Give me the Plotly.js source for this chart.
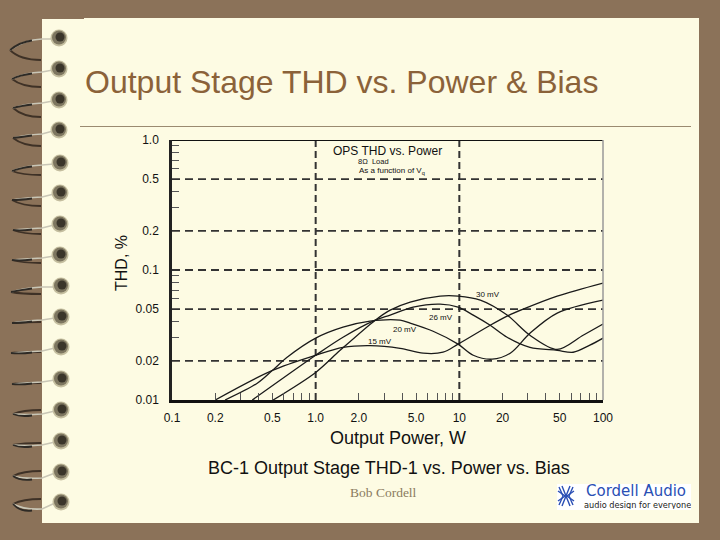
<!DOCTYPE html>
<html><head><meta charset="utf-8">
<script src="https://cdn.plot.ly/plotly-3.0.1.min.js"></script>
<style>html,body{margin:0;padding:0;background:#8B7259;overflow:hidden}</style>
</head><body><div id="chart" style="width:720px;height:540px"></div>
<script>
// ---- chart data ----
const xTickVals = [0.1,0.2,0.5,1,2,5,10,20,50,100];
const xTickText = ['0.1','0.2','0.5','1.0','2.0','5.0','10','20','50','100'];
const yTickVals = [0.01,0.02,0.05,0.1,0.2,0.5,1];
const yTickText = ['0.01','0.02','0.05','0.1','0.2','0.5','1.0'];
const xMinor = [0.2,0.3,0.4,0.5,0.6,0.7,0.8,0.9,2,3,4,5,6,7,8,9,20,30,40,50,60,70,80,90];
const yMinor = [0.9,0.8,0.7,0.6,0.4,0.3,0.09,0.08,0.07,0.06,0.04,0.03];
const xDashed = [1,10];
const yDashed = [0.5,0.2,0.1,0.05,0.02];

const p15 = [0.2,0.5,1,1.55,2.39,3.87,5.6,7.7,9.8,16.4,21.5,27.8,48,100];
const t15 = [0.01,0.0169,0.0221,0.0254,0.0262,0.025,0.0229,0.0233,0.0269,0.0376,0.0442,0.05,0.063,0.0794];
const p20 = [0.234,0.39,0.5,0.633,1,1.55,2.39,3.87,4.55,6.57,9.8,12.5,16.9,22.6,31,48,100];
const t20 = [0.01,0.0134,0.0169,0.0213,0.0299,0.0363,0.0404,0.0411,0.039,0.0338,0.0269,0.0221,0.0206,0.0229,0.0326,0.0466,0.0586];
const p26 = [0.362,1,1.55,2.6,3.3,4.77,7.35,9.8,12.5,16.4,21.5,31,48,62,81,100];
const t26 = [0.01,0.0221,0.0304,0.0411,0.045,0.0518,0.0546,0.0518,0.045,0.0376,0.0304,0.0254,0.0241,0.0233,0.0264,0.0299];
const p30 = [0.506,1,1.48,2.6,3.3,4.55,7.35,9.8,14,21.5,31,48,72.7,100];
const t30 = [0.01,0.0163,0.0241,0.0411,0.0491,0.0566,0.063,0.063,0.0586,0.045,0.0315,0.0245,0.0315,0.0384];

const curves = [['15 mV',p15,t15],['20 mV',p20,t20],['26 mV',p26,t26],['30 mV',p30,t30]];

// ---- spiral binding rings: ball y, ball x, loop tip x, tip y, return y, strand y at the page edge ----
const ringY    = [38,69,100,130,163,193,224,255,286,317,347,379,410,441,472,502];
const ringX    = [59,59,59,59,60,60,60,60,61,61,61,61,61,61,61,61];
const ringTipX = [10,12,13,13,12,12,13,12,11,12,11,12,13,13,13,13];
const ringTipY = [50,79,108,138,171,200,230,260,292,323,353,384,414,445,476,504];
const ringRetY = [60,87,117,146,175,206,234,263,294,322,352,383,410,443,471,499];
const ringEdgeY= [39,72,103,134,165,197,228,258,287,320,351,382,414,445,478,509];

// ---- pixel to paper helpers for decoration ----
const L=172,R=603,T=140,B=400;
const px=x=>(x-L)/(R-L), py=y=>(B-y)/(B-T);
const path=s=>s.replace(/(-?[\d.]+) (-?[\d.]+)/g,(m,a,b)=>px(+a)+' '+py(+b));
const rect=(x0,y0,x1,y1,fill,layer)=>({type:'rect',xref:'paper',yref:'paper',x0:px(x0),x1:px(x1),y0:py(y0),y1:py(y1),fillcolor:fill,line:{width:0},layer:layer||'below'});
const circ=(x,y,r,fill)=>({type:'circle',xref:'paper',yref:'paper',x0:px(x-r),x1:px(x+r),y0:py(y+r),y1:py(y-r),fillcolor:fill,line:{width:0},layer:'above'});
const stroke=(d,color,w)=>({type:'path',xref:'paper',yref:'paper',path:path(d),line:{color:color,width:w},layer:'above'});
const lineS=(x0,y0,x1,y1,color,w,layer)=>({type:'line',xref:'paper',yref:'paper',x0:px(x0),x1:px(x1),y0:py(y0),y1:py(y1),line:{color:color,width:w},layer:layer||'above'});

const shapes=[
  rect(42,19,84,523,'#FDFBE3'),
  rect(84,18,699,523,'#FDFBE3'),
  lineS(80,126.5,691,126.5,'#9A8A70',1,'below'),
  lineS(172,140.5,603,140.5,'#111',1.2),
  lineS(603,140,603,400,'#999',1.5),
  rect(557,484,691,510,'#FFFFFF')
];
ringY.forEach((y,i)=>{
  const x=ringX[i],tx=ringTipX[i],ty=ringTipY[i],r=ringRetY[i],e=ringEdgeY[i];
  shapes.push(stroke(`M ${tx} ${ty} Q ${tx+10} ${r} 41 ${r}`,'#3E3126',1.8));
  shapes.push(stroke(`M ${x-6} ${y+1} L 42 ${e} Q 24 ${e+1} ${tx} ${ty}`,'#C9C6B6',1.6));
  shapes.push(stroke(`M 32 ${e+1.5} Q 20 ${e+3} ${tx} ${ty}`,'#2E2A25',1.8));
  shapes.push(circ(x,y,8.5,'#C4BE9F'));
  shapes.push(circ(x,y-0.5,7,'#7D7660'));
  shapes.push(circ(x+1,y-1,4.5,'#3A352A'));
});
// logo mark
const blue='#2A4FB5';
[[-7,-9,-3,0,-7,9],[-4,-10,0,0,-4,10],[7,-9,3,0,7,9],[4,-10,0,0,4,10],[-8,-5,-1,0,-8,5],[8,-5,1,0,8,5]].forEach(c=>{
  shapes.push(stroke(`M ${566+c[0]} ${496+c[1]} L ${566+c[2]} ${496+c[3]} L ${566+c[4]} ${496+c[5]}`,blue,1.4));
});

const ann=(text,x,y,size,opts)=>Object.assign({text:text,xref:'paper',yref:'paper',x:px(x),y:py(y),xanchor:'center',yanchor:'middle',showarrow:false,
  font:{family:'Liberation Sans, Arial, sans-serif',size:size,color:'#111'}},opts||{});

const traces=[];
xDashed.forEach(v=>traces.push({x:[v,v],y:[0.01,1],mode:'lines',showlegend:false,hoverinfo:'skip',line:{color:'#333',width:2,dash:'7px,4px'}}));
yDashed.forEach(v=>traces.push({x:[0.1,100],y:[v,v],mode:'lines',showlegend:false,hoverinfo:'skip',line:{color:'#333',width:1.8,dash:'8px,5px'}}));
curves.forEach(c=>traces.push({name:c[0],x:c[1],y:c[2],mode:'lines',showlegend:false,line:{color:'#1a1a1a',width:1.3,shape:'spline',smoothing:0.9}}));

const tickFont={family:'Liberation Sans, Arial, sans-serif',size:12,color:'#111'};
const layout={
  width:720,height:540,
  margin:{l:L,r:720-R,t:T,b:540-B,pad:0},
  paper_bgcolor:'#8B7259',plot_bgcolor:'rgba(0,0,0,0)',
  showlegend:false,
  title:{text:'Output Stage THD vs. Power &amp; Bias',x:85/720,xanchor:'left',y:1-82/540,yanchor:'middle',
    font:{family:'Liberation Sans, Arial, sans-serif',size:32,color:'#8B6239'}},
  xaxis:{type:'log',range:[-1,2],tickmode:'array',tickvals:xTickVals,ticktext:xTickText,tickfont:tickFont,
    ticks:'outside',ticklen:5,tickcolor:'rgba(0,0,0,0)',showgrid:false,zeroline:false,
    showline:true,linecolor:'#111',linewidth:2.5,
    minor:{tickmode:'array',tickvals:xMinor,ticks:'inside',ticklen:7,tickwidth:1,tickcolor:'#555',showgrid:false}},
  yaxis:{type:'log',range:[-2,0],tickmode:'array',tickvals:yTickVals,ticktext:yTickText,tickfont:tickFont,
    ticks:'outside',ticklen:8,tickcolor:'rgba(0,0,0,0)',showgrid:false,zeroline:false,
    showline:true,linecolor:'#222',linewidth:2.5,
    minor:{tickmode:'array',tickvals:yMinor,ticks:'inside',ticklen:7,tickwidth:1,tickcolor:'#555',showgrid:false}},
  shapes:shapes,
  annotations:[
    ann('THD, %',121,263,16,{textangle:-90}),
    ann('Output Power, W',398,438,18),
    ann('BC-1 Output Stage THD-1 vs. Power vs. Bias',389,468,18),
    ann('OPS THD vs. Power',387,151,12),
    ann('8Ω  Load',373,161,7.5),
    ann('As a function of V<sub>q</sub>',392,171,8),
    ann('30 mV',488,294,8),
    ann('26 mV',441,317,8),
    ann('20 mV',405,329,8),
    ann('15 mV',380,341,8),
    ann('Bob Cordell',383.5,492,13,{font:{family:'Liberation Serif, serif',size:13.5,color:'#8B7B60'}}),
    ann('Cordell Audio',636,490,15,{font:{family:'DejaVu Sans, sans-serif',size:15,color:blue},height:15,yshift:0}),
    ann('audio design for everyone',637,504.5,8,{font:{family:'DejaVu Sans, sans-serif',size:8.2,color:'#222'},height:9})
  ]
};
Plotly.newPlot('chart',traces,layout,{displayModeBar:false,responsive:false});
</script></body></html>
